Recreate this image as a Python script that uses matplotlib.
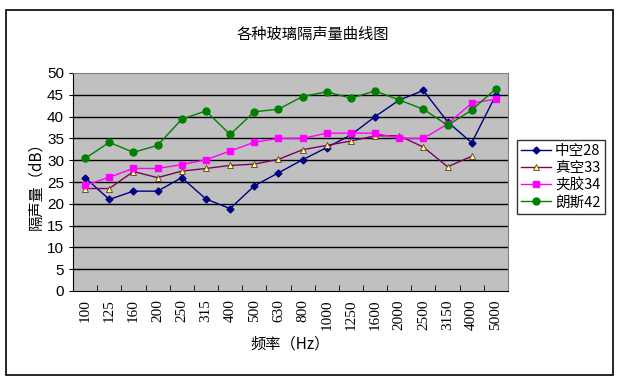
import numpy as np
import matplotlib
matplotlib.use("Agg")
import matplotlib.pyplot as plt
from matplotlib.patches import Rectangle

plt.rcParams['font.family'] = ['Noto Sans CJK SC', 'DejaVu Sans']

freqs = ['100', '125', '160', '200', '250', '315', '400', '500', '630', '800',
         '1000', '1250', '1600', '2000', '2500', '3150', '4000', '5000']

hollow28 = [26.0, 21.0, 22.9, 22.9, 26.0, 21.1, 18.9, 24.1, 27.1, 30.1,
            32.9, 35.8, 40.0, 43.8, 46.0, 38.8, 34.0, 45.0]
vacuum33 = [23.5, 23.5, 27.4, 26.0, 27.5, 28.1, 28.8, 29.1, 30.2, 32.4,
            33.4, 34.4, 35.6, 35.6, 33.0, 28.5, 30.9, np.nan]
laminated34 = [24.2, 26.1, 28.1, 28.1, 29.0, 30.1, 32.1, 34.1, 35.0, 35.0,
               36.2, 36.2, 36.2, 35.0, 35.0, 38.3, 43.1, 44.0]
langsi42 = [30.4, 34.1, 31.8, 33.4, 39.4, 41.3, 35.9, 41.1, 41.7, 44.6,
            45.7, 44.2, 45.9, 43.8, 41.7, 38.0, 41.5, 46.4]

fig = plt.figure(figsize=(6.26, 3.86), dpi=100)
fig.patches.append(Rectangle((6 / 626, 11 / 386), 607 / 626, 365 / 386,
                             transform=fig.transFigure, fill=False,
                             edgecolor='black', linewidth=1.2))

ax = fig.add_axes([73 / 626, 95 / 386, 435 / 626, 218 / 386])
ax.set_facecolor('#c0c0c0')
x = np.arange(len(freqs))

ax.plot(x, hollow28, color='#000080', marker='D', markersize=3.5,
        linewidth=1, label='中空28')
ax.plot(x, vacuum33, color='#800060', marker='^', markersize=5,
        markerfacecolor='#ffff99', markeredgecolor='#5a3a1a',
        markeredgewidth=0.6, linewidth=1, label='真空33')
ax.plot(x, laminated34, color='#ff00ff', marker='s', markersize=4.5,
        linewidth=1, label='夹胶34')
ax.plot(x, langsi42, color='#008000', marker='o', markersize=5,
        linewidth=1, label='朗斯42')

ax.set_xlim(-0.5, len(freqs) - 0.5)
ax.set_ylim(0, 50)
ax.set_yticks(range(0, 51, 5))
for v in range(5, 50, 5):
    ax.axhline(v, color='black', linewidth=1, zorder=0.5)

ax.set_xticks(x)
ax.set_xticklabels(freqs, rotation=90, fontsize=11, family=['Liberation Serif', 'DejaVu Sans'])
ax.tick_params(axis='x', length=0, pad=6)
ax.set_xticks(np.arange(0.5, len(freqs) - 1, 1), minor=True)
ax.tick_params(axis='x', which='minor', direction='in', length=4)
ax.tick_params(axis='y', labelsize=11, length=3, direction='out')
for lab in ax.get_yticklabels():
    lab.set_family(['Liberation Sans', 'DejaVu Sans'])

for side in ['top', 'right']:
    ax.spines[side].set_color('#808080')
for side in ['left', 'bottom']:
    ax.spines[side].set_color('black')

ax.set_xlabel('频率（Hz）', fontsize=11, labelpad=4)
ax.set_ylabel('隔声量（dB）', fontsize=11, labelpad=2)
fig.text(0.5, 1 - 34 / 386, '各种玻璃隔声量曲线图', ha='center', va='center', fontsize=11)

leg = fig.legend(loc='upper left', bbox_to_anchor=(517 / 626, 1 - 140 / 386),
                 fontsize=10.5, frameon=True, fancybox=False, handlelength=2,
                 borderpad=0.3, labelspacing=0.2, handletextpad=0.3,
                 borderaxespad=0)
leg.get_frame().set_edgecolor('black')
leg.get_frame().set_linewidth(1)

fig.savefig('out.png', dpi=100)
